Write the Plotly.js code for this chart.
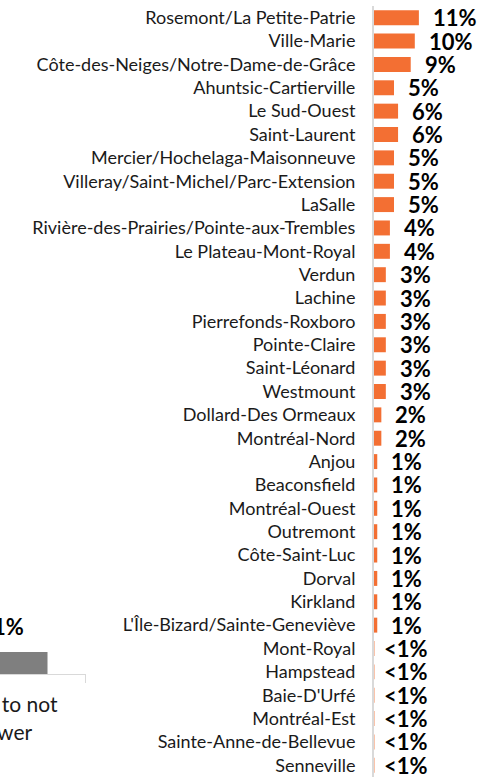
<!DOCTYPE html>
<html>
<head>
<meta charset="utf-8">
<script src="https://cdn.plot.ly/plotly-3.0.1.min.js"></script>
<style>html,body{margin:0;padding:0;background:#fff;}#chart{width:495px;height:777px;}</style>
</head>
<body>
<div id="chart"></div>
<script>
// Main chart: share by borough (top to bottom)
const boroughs = [
  "Rosemont/La Petite-Patrie",
  "Ville-Marie",
  "Côte-des-Neiges/Notre-Dame-de-Grâce",
  "Ahuntsic-Cartierville",
  "Le Sud-Ouest",
  "Saint-Laurent",
  "Mercier/Hochelaga-Maisonneuve",
  "Villeray/Saint-Michel/Parc-Extension",
  "LaSalle",
  "Rivière-des-Prairies/Pointe-aux-Trembles",
  "Le Plateau-Mont-Royal",
  "Verdun",
  "Lachine",
  "Pierrefonds-Roxboro",
  "Pointe-Claire",
  "Saint-Léonard",
  "Westmount",
  "Dollard-Des Ormeaux",
  "Montréal-Nord",
  "Anjou",
  "Beaconsfield",
  "Montréal-Ouest",
  "Outremont",
  "Côte-Saint-Luc",
  "Dorval",
  "Kirkland",
  "L'Île-Bizard/Sainte-Geneviève",
  "Mont-Royal",
  "Hampstead",
  "Baie-D'Urfé",
  "Montréal-Est",
  "Sainte-Anne-de-Bellevue",
  "Senneville"
];
const shares = [11.0, 10.0, 9.0, 4.9, 5.9, 5.9, 4.9, 4.9, 4.9, 3.9, 3.9,
  2.9, 2.9, 2.9, 2.9, 2.9, 2.9, 1.8, 1.8,
  0.8, 0.8, 0.8, 0.8, 0.8, 0.8, 0.8, 0.8,
  0.1, 0.1, 0.1, 0.1, 0.1, 0.1];
const shareLabels = ["11%", "10%", "9%", "5%", "6%", "6%", "5%", "5%", "5%", "4%", "4%",
  "3%", "3%", "3%", "3%", "3%", "3%", "2%", "2%",
  "1%", "1%", "1%", "1%", "1%", "1%", "1%", "1%",
  "<1%", "<1%", "<1%", "<1%", "<1%", "<1%"];

// Partly visible neighbouring chart (bottom left)
const otherCategories = ["Prefer to not<br>answer"];
const otherValues = [1.2];
const otherLabels = ["1%"];

const W = 495, H = 777, T = 6;
const axisLeftPx = 374;
const pxPerUnit = 4.08;

const orange = "#f36f33";
const catFont = {family: "Lato, 'Open Sans', sans-serif", size: 18, color: "#1a1a1a"};
const otherCatFont = {family: "Lato, 'Open Sans', sans-serif", size: 21, color: "#1a1a1a"};
const valFont = {family: "Lato, 'Open Sans', sans-serif", size: 22, color: "#000", weight: 700};

const traces = [
  {
    type: "bar", orientation: "h",
    x: shares, y: boroughs,
    marker: {color: orange},
    xaxis: "x", yaxis: "y",
    hoverinfo: "skip"
  },
  {
    type: "bar",
    x: [0], y: otherValues,
    width: 0.5,
    marker: {color: "#7f7f7f"},
    xaxis: "x2", yaxis: "y2",
    hoverinfo: "skip"
  }
];

const annotations = shares.map((v, i) => ({
  x: v, y: boroughs[i], xref: "x", yref: "y",
  text: "<b>" + shareLabels[i] + "</b>",
  showarrow: false, xanchor: "left", yanchor: "middle",
  xshift: shareLabels[i].startsWith("<") ? 8 : 12,
  font: valFont
}));
otherValues.forEach((v, i) => annotations.push({
  x: 0, y: v, xref: "x2", yref: "y2",
  text: "<b>" + otherLabels[i] + "</b>",
  showarrow: false, xanchor: "center", yanchor: "bottom",
  yshift: 10,
  font: valFont
}));

const plotH = H - T;
const paperY = py => (H - py) / plotH;

const layout = {
  width: W, height: H,
  margin: {l: 0, r: 0, t: T, b: 0, pad: 0},
  paper_bgcolor: "#fff", plot_bgcolor: "rgba(0,0,0,0)",
  showlegend: false,
  bargap: 0.36,
  font: catFont,
  xaxis: {
    domain: [axisLeftPx / W, 1],
    range: [0, (W - axisLeftPx) / pxPerUnit],
    showgrid: false, zeroline: false, showline: false,
    showticklabels: false, ticks: "", fixedrange: true
  },
  yaxis: {
    domain: [0, 1],
    type: "category",
    range: [boroughs.length - 0.5, -0.5],
    showgrid: false, zeroline: false,
    showline: true, linecolor: "#d9d9d9", linewidth: 2,
    ticks: "", ticklabelstandoff: 13,
    tickfont: catFont, fixedrange: true
  },
  xaxis2: {
    anchor: "y2",
    domain: [0, 86 / W],
    range: [-0.0584, 0.5],
    showgrid: false, zeroline: false,
    showline: true, linecolor: "#d9d9d9", linewidth: 1,
    tickmode: "array", tickvals: [0], ticktext: otherCategories,
    ticks: "", ticklabelstandoff: 12, ticklabelshift: -10,
    ticklabeloverflow: "allow",
    minor: {tickmode: "array", tickvals: [0.499], ticks: "outside", ticklen: 8, tickcolor: "#d9d9d9", tickwidth: 1},
    tickfont: otherCatFont, fixedrange: true
  },
  yaxis2: {
    anchor: "x2",
    domain: [paperY(674), paperY(600)],
    range: [0, 1.2 * 74 / 22],
    showgrid: false, zeroline: false, showline: false,
    showticklabels: false, ticks: "", fixedrange: true
  },
  annotations: annotations
};

Plotly.newPlot("chart", traces, layout, {displayModeBar: false, staticPlot: true});
</script>
</body>
</html>
